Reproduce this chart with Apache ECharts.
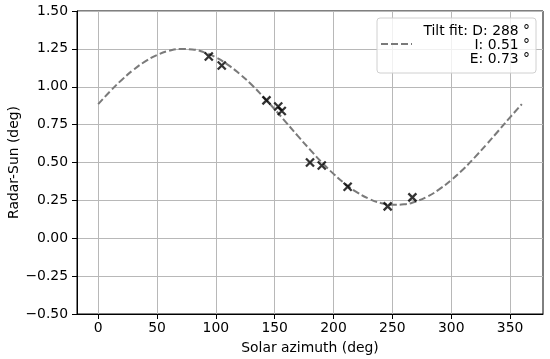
<!DOCTYPE html>
<html><head><meta charset="utf-8">
<script src="https://cdn.jsdelivr.net/npm/echarts@6/dist/echarts.min.js"></script>
<style>html,body{margin:0;padding:0;background:#fff}#c{width:550px;height:359px}</style>
</head><body><div id="c"></div>
<script>
// Observed points (solar azimuth deg, radar-sun deg)
const obsAzimuth = [94, 105, 143, 153, 156, 180, 190, 212, 246, 267];
const obsOffset  = [1.20, 1.14, 0.91, 0.87, 0.84, 0.50, 0.48, 0.34, 0.21, 0.27];
// Tilt fit curve, every 10 deg
const fitAzimuth = [0,10,20,30,40,50,60,70,80,90,100,110,120,130,140,150,160,170,180,190,200,210,220,230,240,250,260,270,280,290,300,310,320,330,340,350,360];
const fitOffset  = [0.885,0.969,1.045,1.112,1.167,1.209,1.237,1.249,1.246,1.227,1.194,1.146,1.086,1.016,0.936,0.851,0.762,0.672,0.585,0.501,0.425,0.358,0.303,0.261,0.233,0.221,0.224,0.243,0.276,0.324,0.384,0.454,0.534,0.619,0.708,0.798,0.885];
const xTicks = [0,50,100,150,200,250,300,350];
const legendLines = ['Tilt fit: D: 288 °', 'I: 0.51 °', 'E: 0.73 °'];

const font = 'DejaVu Sans';
const fs = 13.9;
const chart = echarts.init(document.getElementById('c'), null, {renderer:'canvas'});
chart.setOption({
  animation:false,
  backgroundColor:'#fff',
  grid:{left:77, right:7, top:11, bottom:45, containLabel:false, outerBoundsMode:'none',
    show:true, borderColor:'#000', borderWidth:1, backgroundColor:'transparent'},
  xAxis:{type:'value', min:-18, max:378,
    name:'Solar azimuth (deg)', nameLocation:'middle', nameGap:27, nameMoveOverlap:false,
    nameTextStyle:{fontFamily:font, fontSize:fs, color:'#000'},
    axisLine:{show:true, onZero:false, lineStyle:{color:'#000', width:1}},
    axisTick:{show:true, length:5, customValues:xTicks, lineStyle:{color:'#000'}},
    axisLabel:{customValues:xTicks, fontFamily:font, fontSize:fs, color:'#000', margin:7},
    splitLine:{show:true, lineStyle:{color:'#b8b8b8', width:1}}
  },
  yAxis:{type:'value', min:-0.5, max:1.5, interval:0.25,
    name:'Radar-Sun (deg)', nameLocation:'middle', nameGap:56, nameMoveOverlap:false,
    nameTextStyle:{fontFamily:font, fontSize:fs, color:'#000'},
    axisLine:{show:true, onZero:false, lineStyle:{color:'#000', width:1}},
    axisTick:{show:true, length:5, lineStyle:{color:'#000'}},
    axisLabel:{fontFamily:font, fontSize:fs, color:'#000', margin:9,
      formatter:v=>v.toFixed(2).replace('-','\u2212')},
    splitLine:{show:true, lineStyle:{color:'#b8b8b8', width:1}}
  },
  series:[
    {type:'line', data:fitAzimuth.map((a,i)=>[a,fitOffset[i]]), smooth:true, showSymbol:false,
      lineStyle:{color:'#7a7a7a', width:2, type:[7,3]}, z:2},
    {type:'scatter', data:obsAzimuth.map((a,i)=>[a,obsOffset[i]]),
      symbol:'path://M0,0L10,10M10,0L0,10', symbolSize:8,
      itemStyle:{color:'none', borderColor:'#000', borderWidth:2.3}, z:3}
  ],
  graphic:[
    {type:'rect', shape:{x:377, y:18, width:159, height:55, r:3}, style:{fill:'rgba(255,255,255,0.8)', stroke:'#d0d0d0', lineWidth:1}, z:10},
    {type:'line', shape:{x1:381, y1:44, x2:412, y2:44}, style:{stroke:'#7a7a7a', lineWidth:2, lineDash:[7,3]}, z:11},
    {type:'text', x:530, y:31, style:{text:legendLines[0], font:fs+'px "DejaVu Sans"', fill:'#000', align:'right', verticalAlign:'middle'}, z:11},
    {type:'text', x:530, y:45, style:{text:legendLines[1], font:fs+'px "DejaVu Sans"', fill:'#000', align:'right', verticalAlign:'middle'}, z:11},
    {type:'text', x:530, y:59.5, style:{text:legendLines[2], font:fs+'px "DejaVu Sans"', fill:'#000', align:'right', verticalAlign:'middle'}, z:11}
  ]
});
</script></body></html>
